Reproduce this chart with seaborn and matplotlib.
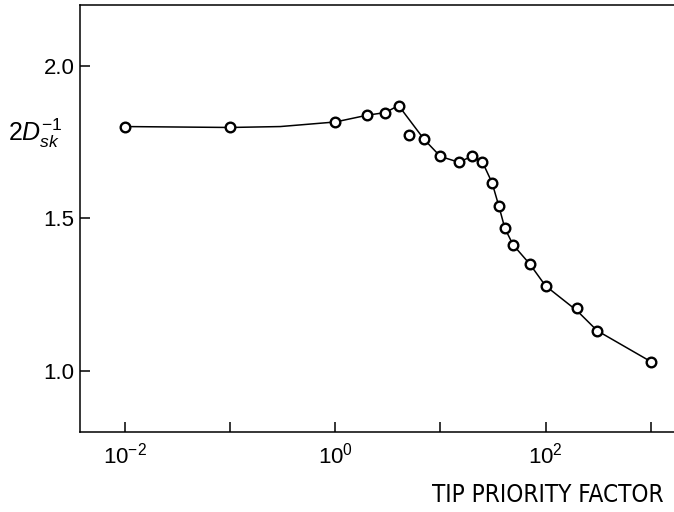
import matplotlib
matplotlib.use("Agg")
import matplotlib.pyplot as plt
import matplotlib.ticker as mticker
import seaborn as sns
import pandas as pd

# Data
tip_factor = [0.01, 0.1, 1, 2, 3, 4, 5, 7, 10, 15, 20, 25, 31, 36, 41, 49, 71, 100, 200, 310, 1000]
d_value = [1.800, 1.797, 1.815, 1.837, 1.846, 1.869, 1.771, 1.758, 1.702, 1.683, 1.703,
           1.685, 1.616, 1.539, 1.467, 1.413, 1.349, 1.278, 1.206, 1.131, 1.030]

# Drawn smooth guide curve
curve_x = [0.01, 0.1, 0.3, 1, 2, 3, 4, 7, 10, 15, 20, 25, 31, 36, 41, 49, 71, 100, 200, 310, 1000]
curve_y = [1.800, 1.797, 1.800, 1.815, 1.837, 1.846, 1.869, 1.758, 1.702, 1.683, 1.703,
           1.685, 1.616, 1.539, 1.467, 1.413, 1.349, 1.278, 1.196, 1.131, 1.030]

x_ticks = [1e-2, 1e-1, 1e0, 1e1, 1e2, 1e3]
x_tick_labels = [r"$10^{-2}$", "", r"$10^{0}$", "", r"$10^{2}$", ""]
y_ticks = [1.0, 1.5, 2.0]
y_tick_labels = ["1.0", "1.5", "2.0"]

sns.set_theme(style="white")
plt.rcParams["font.family"] = ["Liberation Sans", "DejaVu Sans"]
plt.rcParams["mathtext.fontset"] = "custom"
plt.rcParams["mathtext.rm"] = "Liberation Sans"
plt.rcParams["mathtext.it"] = "Liberation Sans:italic"

fig = plt.figure(figsize=(6.74, 5.12), dpi=100)
ax = fig.add_axes([80 / 674, (512 - 431.7) / 512, 1 - 80 / 674, (431.7 - 4.5) / 512])

df_curve = pd.DataFrame({"x": curve_x, "y": curve_y})
df_pts = pd.DataFrame({"x": tip_factor, "y": d_value})

sns.lineplot(data=df_curve, x="x", y="y", ax=ax, color="black", linewidth=1.1,
             sort=False, estimator=None, zorder=2)
sns.scatterplot(data=df_pts, x="x", y="y", ax=ax, marker="o", s=48,
                facecolor="white", edgecolor="black", linewidth=1.7, zorder=3)

ax.set_xscale("log")
ax.set_xlim(10 ** -2.428, 10 ** 3.222)
ax.set_ylim(0.8, 2.2)

ax.xaxis.set_major_locator(mticker.FixedLocator(x_ticks))
ax.xaxis.set_minor_locator(mticker.NullLocator())
ax.set_xticklabels(x_tick_labels)
ax.set_yticks(y_ticks)
ax.set_yticklabels(y_tick_labels)

ax.tick_params(axis="both", which="major", direction="in", length=7.5, width=1.1,
               colors="black", labelsize=16, bottom=True, left=True, top=False, right=False)
ax.tick_params(axis="x", pad=8)
ax.tick_params(axis="y", pad=4)

for side in ["left", "bottom", "top"]:
    ax.spines[side].set_visible(True)
    ax.spines[side].set_color("black")
    ax.spines[side].set_linewidth(1.1)
ax.spines["right"].set_visible(False)

ax.set_xlabel("")
ax.set_ylabel("")

fig.text(8 / 674, (512 - 133) / 512, r"$2D_{sk}^{-1}$",
         fontsize=18, ha="left", va="center", color="black")

fig.text((432 + 663) / 2 / 674, (512 - 495) / 512, "TIP PRIORITY FACTOR",
         family="DejaVu Sans", fontstretch="condensed", fontsize=17.4,
         ha="center", va="center", color="black")

fig.savefig("out.png", dpi=100, facecolor="white")
